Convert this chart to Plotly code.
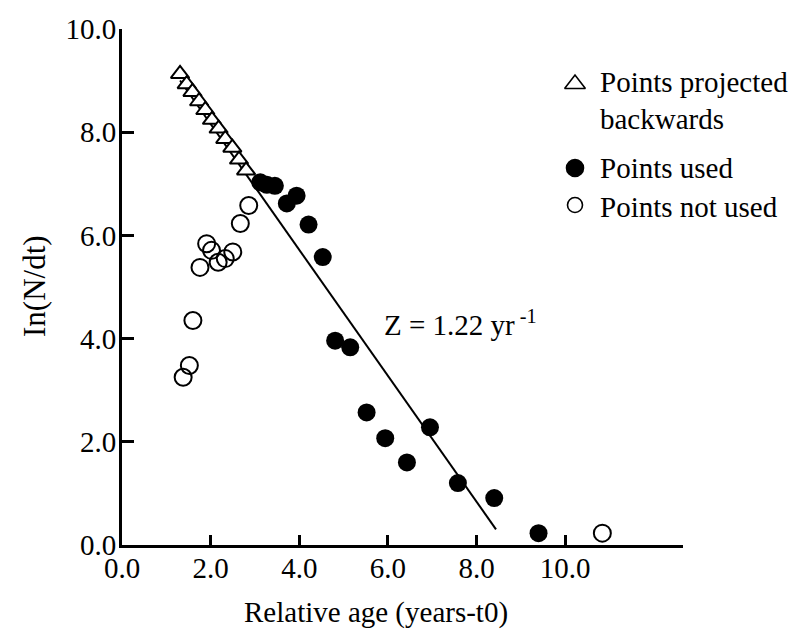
import plotly.graph_objects as go

# Catch-curve data: relative age (years - t0) vs ln(N/dt)
age_projected = [1.31, 1.46, 1.59, 1.74, 1.88, 2.03, 2.18, 2.33, 2.49, 2.64, 2.80]
ln_projected = [9.13, 8.93, 8.78, 8.60, 8.43, 8.24, 8.07, 7.87, 7.70, 7.47, 7.26]

age_used = [3.12, 3.27, 3.45, 3.72, 3.94, 4.21, 4.53, 4.81, 5.15, 5.52, 5.94,
            6.43, 6.95, 7.58, 8.40, 9.40]
ln_used = [7.03, 6.98, 6.96, 6.62, 6.77, 6.21, 5.58, 3.96, 3.83, 2.57, 2.07,
           1.60, 2.28, 1.20, 0.91, 0.23]

age_not_used = [1.38, 1.52, 1.60, 1.76, 1.91, 2.02, 2.17, 2.33, 2.50, 2.67, 2.86, 10.84]
ln_not_used = [3.25, 3.48, 4.35, 5.38, 5.84, 5.71, 5.48, 5.55, 5.68, 6.23, 6.58, 0.23]

# Regression line: total mortality Z (slope) and intercept
Z = 1.22
intercept = 10.6
fit_age = [1.31, 8.44]
fit_ln = [intercept - Z * a for a in fit_age]

x_ticks = [0, 2, 4, 6, 8, 10]
y_ticks = [0, 2, 4, 6, 8, 10]

FONT = "Liberation Serif"

# Plot-area placement in page pixels
L, R, T, B = 122, 683, 29, 545
W, H = 797, 639


def px_to_paper(px, py):
    return (px - L) / (R - L), (B - py) / (B - T)


fig = go.Figure()

fig.add_trace(go.Scatter(
    x=fit_age, y=fit_ln, mode="lines",
    line=dict(color="black", width=2), showlegend=False, hoverinfo="skip"))

fig.add_trace(go.Scatter(
    x=age_projected, y=ln_projected, mode="markers",
    marker=dict(symbol="triangle-up", size=16, color="white",
                line=dict(color="black", width=2)),
    showlegend=False))

fig.add_trace(go.Scatter(
    x=age_not_used, y=ln_not_used, mode="markers",
    marker=dict(symbol="circle", size=17, color="rgba(0,0,0,0)",
                line=dict(color="black", width=2)),
    showlegend=False))

fig.add_trace(go.Scatter(
    x=age_used, y=ln_used, mode="markers",
    marker=dict(symbol="circle", size=18, color="black",
                line=dict(color="black", width=0)),
    showlegend=False))

# Hand-drawn key on an overlay axis measured in page pixels
key_x = [575, 575, 575]
key_y = [84, 168, 205]
key_symbols = ["triangle-up", "circle", "circle"]
key_fill = ["white", "black", "white"]
key_size = [18, 17, 15]
for kx, ky, ks, kf, kz in zip(key_x, key_y, key_symbols, key_fill, key_size):
    fig.add_trace(go.Scatter(
        x=[kx], y=[ky], xaxis="x2", yaxis="y2", mode="markers",
        marker=dict(symbol=ks, size=kz, color=kf,
                    line=dict(color="black", width=1.6)),
        showlegend=False, hoverinfo="skip", cliponaxis=False))

key_text = [("Points projected", 82), ("backwards", 119),
            ("Points used", 168), ("Points not used", 207)]
annotations = []
for txt, ty in key_text:
    annotations.append(dict(
        x=598, y=ty, xref="x2", yref="y2", text=txt, showarrow=False,
        xanchor="left", yanchor="middle",
        font=dict(family=FONT, size=29, color="black")))

annotations.append(dict(
    x=382, y=323, xref="x2", yref="y2",
    text="Z = 1.22 yr<sup> -1</sup>", showarrow=False,
    xanchor="left", yanchor="middle",
    font=dict(family=FONT, size=29, color="black")))

# Axis titles sit outside the plot area, so they use paper coordinates
xt_x, xt_y = px_to_paper(376, 612)
annotations.append(dict(
    x=xt_x, y=xt_y, xref="paper", yref="paper",
    text="Relative age (years-t0)", showarrow=False,
    xanchor="center", yanchor="middle",
    font=dict(family=FONT, size=29, color="black")))

yt_x, yt_y = px_to_paper(34, 286)
annotations.append(dict(
    x=yt_x, y=yt_y, xref="paper", yref="paper",
    text="In(N/dt)", showarrow=False, textangle=-90,
    xanchor="center", yanchor="middle",
    font=dict(family=FONT, size=31, color="black")))

fig.update_layout(
    width=W, height=H,
    margin=dict(l=L, r=W - R, t=T, b=H - B),
    paper_bgcolor="white", plot_bgcolor="white",
    font=dict(family=FONT, color="black"),
    xaxis=dict(
        range=[0, 12.66], tickvals=x_ticks,
        ticktext=[f"{v:.1f}" for v in x_ticks],
        showgrid=False, zeroline=False,
        showline=True, linecolor="black", linewidth=3,
        ticks="inside", ticklen=10, tickwidth=3, tickcolor="black",
        ticklabelstandoff=-5,
        tickfont=dict(family=FONT, size=29, color="black"),
    ),
    yaxis=dict(
        range=[0, 10], tickvals=y_ticks,
        ticktext=[f"{v:.1f}" for v in y_ticks],
        showgrid=False, zeroline=False,
        showline=True, linecolor="black", linewidth=3,
        ticks="inside", ticklen=12, tickwidth=3, tickcolor="black",
        ticklabelstandoff=-3,
        tickfont=dict(family=FONT, size=29, color="black"),
    ),
    # overlay axes spanning the plot area, ranged in page pixels
    xaxis2=dict(domain=[0, 1], range=[L, R], visible=False,
                overlaying="x", anchor="y2", fixedrange=True),
    yaxis2=dict(domain=[0, 1], range=[B, T], visible=False,
                overlaying="y", anchor="x2", fixedrange=True),
    annotations=annotations,
)

fig.write_html("out.html")
